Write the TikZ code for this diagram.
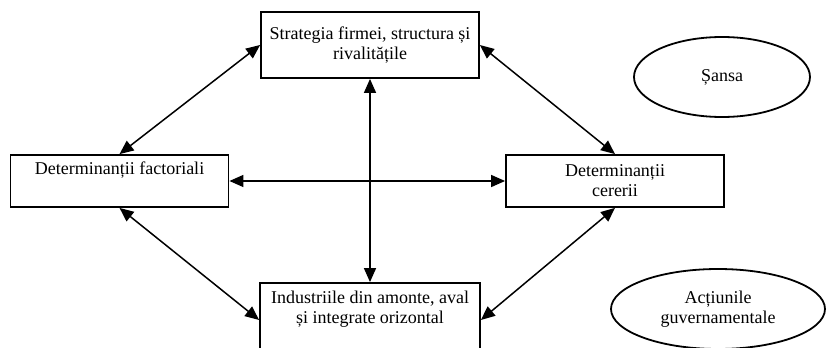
\documentclass[tikz,border=0pt]{standalone}
\usepackage{fontspec}
\setmainfont{Liberation Serif}
\usetikzlibrary{arrows.meta,shapes.geometric}

\begin{document}
\begin{tikzpicture}[x=0.5pt,y=-0.5pt,
    every node/.style={font=\fontsize{9}{10}\selectfont, align=center},
    box/.style={draw, line width=0.9pt, minimum width=109pt, inner sep=0pt},
    oval/.style={draw, ellipse, line width=0.9pt, inner sep=0pt},
    link/.style={{Triangle[length=7pt,width=6pt]}-{Triangle[length=7pt,width=6pt]}, line width=0.75pt}]
\useasboundingbox (0,0) rectangle (826,348);

    \node[box, minimum height=33pt] (strat) at (370,45) {Strategia firmei, structura și\\ rivalitățile};
    \node[box, minimum height=26pt] (fact) at (119.5,181) {Determinanții factoriali\\ \strut};
    \node[box, minimum height=26pt] (cerere) at (615,181) {Determinanții\\ cererii};
    \node[box, minimum height=37pt, minimum width=110pt] (ind) at (370,320) {Industriile din amonte, aval\\ și integrate orizontal\\ \strut};

    \node[oval, minimum width=88pt, minimum height=40pt] (sansa) at (722,77) {Șansa};
    \node[oval, minimum width=107pt, minimum height=40pt] (guv) at (718,309) {Acțiunile\\ guvernamentale};

    % draw the arrows
    \draw[link] (strat.west) -- (fact.north);
    \draw[link] (strat.east) -- (cerere.north);
    \draw[link] (fact.south) -- (ind.west);
    \draw[link] (cerere.south) -- (ind.east);
    \draw[link] (fact.east) -- (cerere.west);
    \draw[link] (strat.south) -- (ind.north);

\end{tikzpicture}
\end{document}
